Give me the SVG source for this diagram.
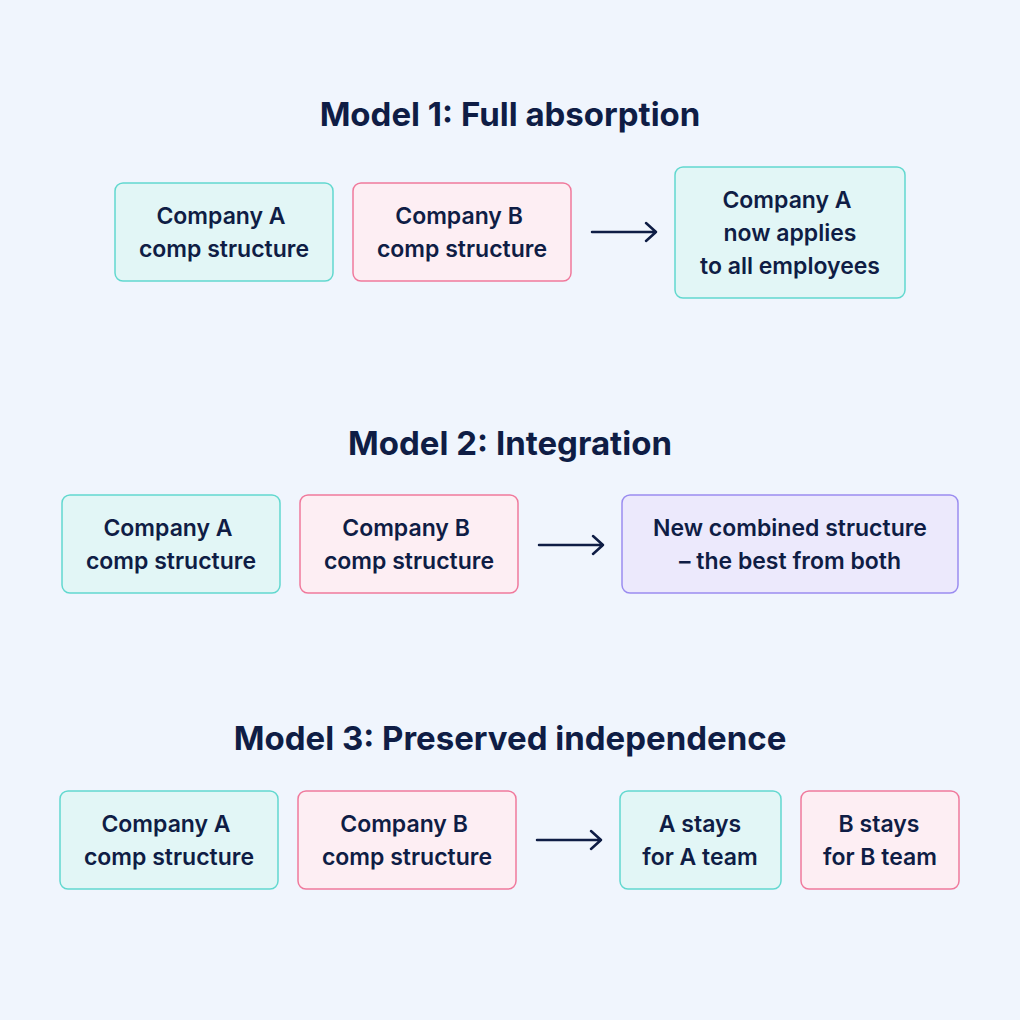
<svg xmlns="http://www.w3.org/2000/svg" width="1020" height="1020" viewBox="0 0 1020 1020">
<style>
.t{font-family:Inter,"Noto Sans",sans-serif;font-weight:700;font-size:33px;fill:#0f1d45;text-anchor:middle}
.l{font-family:Inter,"Noto Sans",sans-serif;font-weight:600;font-size:23px;fill:#0f1d45;text-anchor:middle}
.a{fill:#e2f6f6;stroke:#62d8cf;stroke-width:1.5}
.b{fill:#fdeef3;stroke:#f0799c;stroke-width:1.5}
.c{fill:#ece9fc;stroke:#9a8cf0;stroke-width:1.5}
.ar{stroke:#0f1d45;stroke-width:2.5;fill:none;stroke-linecap:round;stroke-linejoin:round}
</style>
<rect width="1020" height="1020" fill="#f0f5fd"/>
<text class="t" x="510" y="126">Model 1: Full absorption</text>
<text class="t" x="510" y="455">Model 2: Integration</text>
<text class="t" x="510" y="750">Model 3: Preserved independence</text>
<g id="m1a"><rect class="a" x="115" y="183" width="218" height="98" rx="8"/><text class="l" x="221" y="224">Company A</text><text class="l" x="224" y="257">comp structure</text></g>
<g id="m1b"><rect class="b" x="353" y="183" width="218" height="98" rx="8"/><text class="l" x="459" y="224">Company B</text><text class="l" x="462" y="257">comp structure</text></g>
<g id="m1c"><rect class="a" x="675" y="167" width="230" height="131" rx="8"/><text class="l" x="787" y="208">Company A</text><text class="l" x="790" y="241">now applies</text><text class="l" x="790" y="274">to all employees</text></g>
<g id="m2a"><rect class="a" x="62" y="495" width="218" height="98" rx="8"/><text class="l" x="168" y="536">Company A</text><text class="l" x="171" y="569">comp structure</text></g>
<g id="m2b"><rect class="b" x="300" y="495" width="218" height="98" rx="8"/><text class="l" x="406" y="536">Company B</text><text class="l" x="409" y="569">comp structure</text></g>
<g id="m2c"><rect class="c" x="622" y="495" width="336" height="98" rx="8"/><text class="l" x="790" y="536">New combined structure</text><text class="l" x="790" y="569">–  the best from both</text></g>
<g id="m3a"><rect class="a" x="60" y="791" width="218" height="98" rx="8"/><text class="l" x="166" y="832">Company A</text><text class="l" x="169" y="865">comp structure</text></g>
<g id="m3b"><rect class="b" x="298" y="791" width="218" height="98" rx="8"/><text class="l" x="404" y="832">Company B</text><text class="l" x="407" y="865">comp structure</text></g>
<g id="m3c"><rect class="a" x="620" y="791" width="161" height="98" rx="8"/><text class="l" x="700" y="832">A stays</text><text class="l" x="700" y="865">for A team</text></g>
<g id="m3d"><rect class="b" x="801" y="791" width="158" height="98" rx="8"/><text class="l" x="879" y="832">B stays</text><text class="l" x="880" y="865">for B team</text></g>
<g id="connectors">
<path class="ar" d="M592 232H656M646 223L656 232L646 241"/>
<path class="ar" d="M539 545H603M593 536L603 545L593 554"/>
<path class="ar" d="M537 840H601M591 831L601 840L591 849"/>
</g>
</svg>
